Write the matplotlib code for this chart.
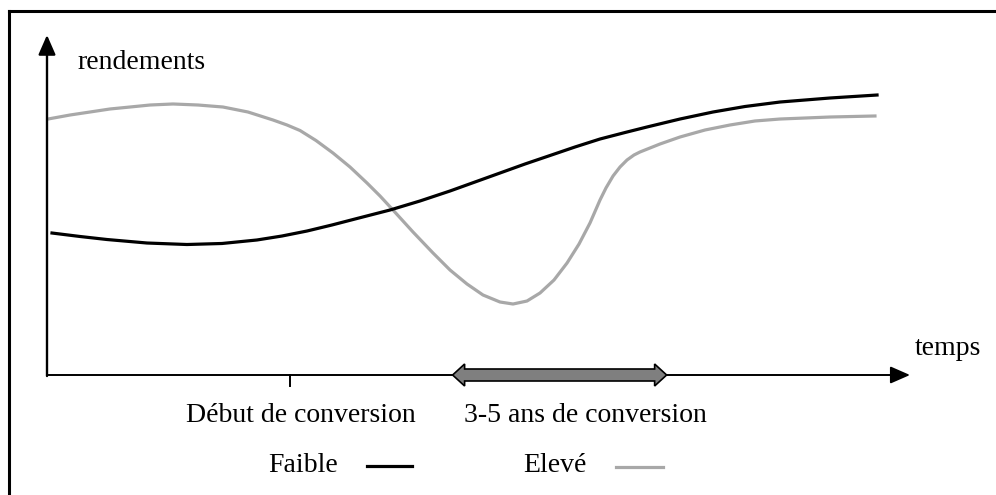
import matplotlib
matplotlib.use("Agg")
import matplotlib.pyplot as plt
from matplotlib.lines import Line2D
from matplotlib.patches import Polygon

# yield curves (time 0-100, yield 0-100)
t_faible = [0.58, 3.82, 6.95, 11.59, 16.22, 20.28, 24.33, 27.23, 30.13, 33.02, 35.92, 39.75,
            43.22, 46.70, 49.59, 52.49, 55.39, 58.29, 61.18, 64.08, 66.98, 69.52, 73.35,
            77.17, 80.88, 84.94, 90.73, 96.18]
y_faible = [41.76, 40.74, 39.85, 38.82, 38.38, 38.68, 39.71, 40.88, 42.35, 44.12, 46.03, 48.53,
            51.18, 54.12, 56.76, 59.41, 62.06, 64.56, 67.06, 69.41, 71.32, 72.94, 75.29,
            77.35, 78.97, 80.29, 81.47, 82.35]

t_eleve = [0.12, 2.67, 4.98, 7.30, 9.62, 11.94, 14.60, 17.50, 20.39, 23.29, 26.19, 27.81,
           29.32, 31.17, 33.14, 35.11, 37.08, 38.59, 40.09, 42.41, 44.73, 46.70, 48.67,
           50.52, 52.49, 54.00, 55.62, 57.13, 58.75, 60.26, 61.65, 62.92, 64.08, 64.77,
           65.59, 66.40, 67.21, 68.02, 68.71, 71.03, 73.35, 76.25, 79.14, 82.04, 84.94,
           90.73, 95.94]
y_eleve = [75.29, 76.47, 77.35, 78.24, 78.82, 79.41, 79.71, 79.41, 78.82, 77.35, 75.00, 73.53,
           71.91, 68.97, 65.29, 61.18, 56.47, 52.65, 48.53, 42.06, 35.88, 30.88, 26.76,
           23.53, 21.47, 20.88, 21.76, 24.12, 27.94, 32.94, 38.53, 44.71, 51.47, 55.00,
           58.53, 61.18, 63.24, 64.71, 65.59, 67.94, 70.00, 72.06, 73.53, 74.71, 75.29,
           75.88, 76.18]

debut_conversion = 28.2
periode_conversion = (47.0, 71.8)

series_labels = ["Faible", "Elevé"]
series_colors = ["#000000", "#a8a8a8"]

# layout: pixels per unit and origin in the 996x495 image
SX, SY = 8.63, 3.4
OX, OY = 47, 375
W, H = 996, 495

plt.rcParams["font.family"] = ["Liberation Serif", "DejaVu Serif"]

fig = plt.figure(figsize=(9.96, 4.95), dpi=100)
ax = fig.add_axes([0, 0, 1, 1])
ax.set_xlim(-OX / SX, (W - OX) / SX)
ax.set_ylim((OY - H) / SY, OY / SY)
ax.axis("off")


def px(x, y):
    return (x - OX) / SX, (OY - y) / SY


# frame (top and left edges)
fig.add_artist(Line2D([9 / W, 1], [1 - 11 / H] * 2, color="k", lw=2.2, transform=fig.transFigure))
fig.add_artist(Line2D([9 / W] * 2, [0, 1 - 11 / H], color="k", lw=2.2, transform=fig.transFigure))

# axes with arrows
ax.annotate("", xy=(0, 100), xytext=(0, -0.3),
            arrowprops=dict(arrowstyle="-|>,head_length=0.8,head_width=0.35",
                            lw=1.7, color="k", mutation_scale=15, shrinkA=0, shrinkB=0))
ax.annotate("", xy=(100, 0), xytext=(0, 0),
            arrowprops=dict(arrowstyle="-|>,head_length=0.8,head_width=0.35",
                            lw=1.4, color="k", mutation_scale=15, shrinkA=0, shrinkB=0))
ax.plot([debut_conversion, debut_conversion], [0, -11 / SY], color="k", lw=1.4)

# curves
ax.plot(t_faible, y_faible, color=series_colors[0], lw=2.3, solid_joinstyle="round", zorder=3)
ax.plot(t_eleve, y_eleve, color=series_colors[1], lw=2.3, solid_joinstyle="round", zorder=2)

# double arrow for the conversion period
x0, x1 = periode_conversion
hl, sh, hh = 12 / SX, 6 / SY, 11 / SY
pts = [(x0, 0), (x0 + hl, hh), (x0 + hl, sh), (x1 - hl, sh), (x1 - hl, hh), (x1, 0),
       (x1 - hl, -hh), (x1 - hl, -sh), (x0 + hl, -sh), (x0 + hl, -hh)]
ax.add_patch(Polygon(pts, closed=True, fc="#7f7f7f", ec="k", lw=1.2, zorder=4))

fs = 20
ax.text(*px(77, 69), "rendements", fontsize=fs, va="baseline", ha="left")
ax.text(*px(915, 355), "temps", fontsize=fs, va="baseline", ha="left")
ax.text(*px(301, 422), "Début de conversion", fontsize=fs, va="baseline", ha="center")
ax.text(*px(464, 422), "3-5 ans de conversion", fontsize=fs, va="baseline", ha="left")

# legend
ax.text(*px(338, 472), series_labels[0], fontsize=fs, va="baseline", ha="right")
ax.plot([px(367, 0)[0], px(412, 0)[0]], [px(0, 466)[1]] * 2, color=series_colors[0], lw=2.3)
ax.text(*px(587, 472), series_labels[1], fontsize=fs, va="baseline", ha="right")
ax.plot([px(616, 0)[0], px(663, 0)[0]], [px(0, 467)[1]] * 2, color=series_colors[1], lw=2.3)

fig.savefig("out.png", dpi=100)
